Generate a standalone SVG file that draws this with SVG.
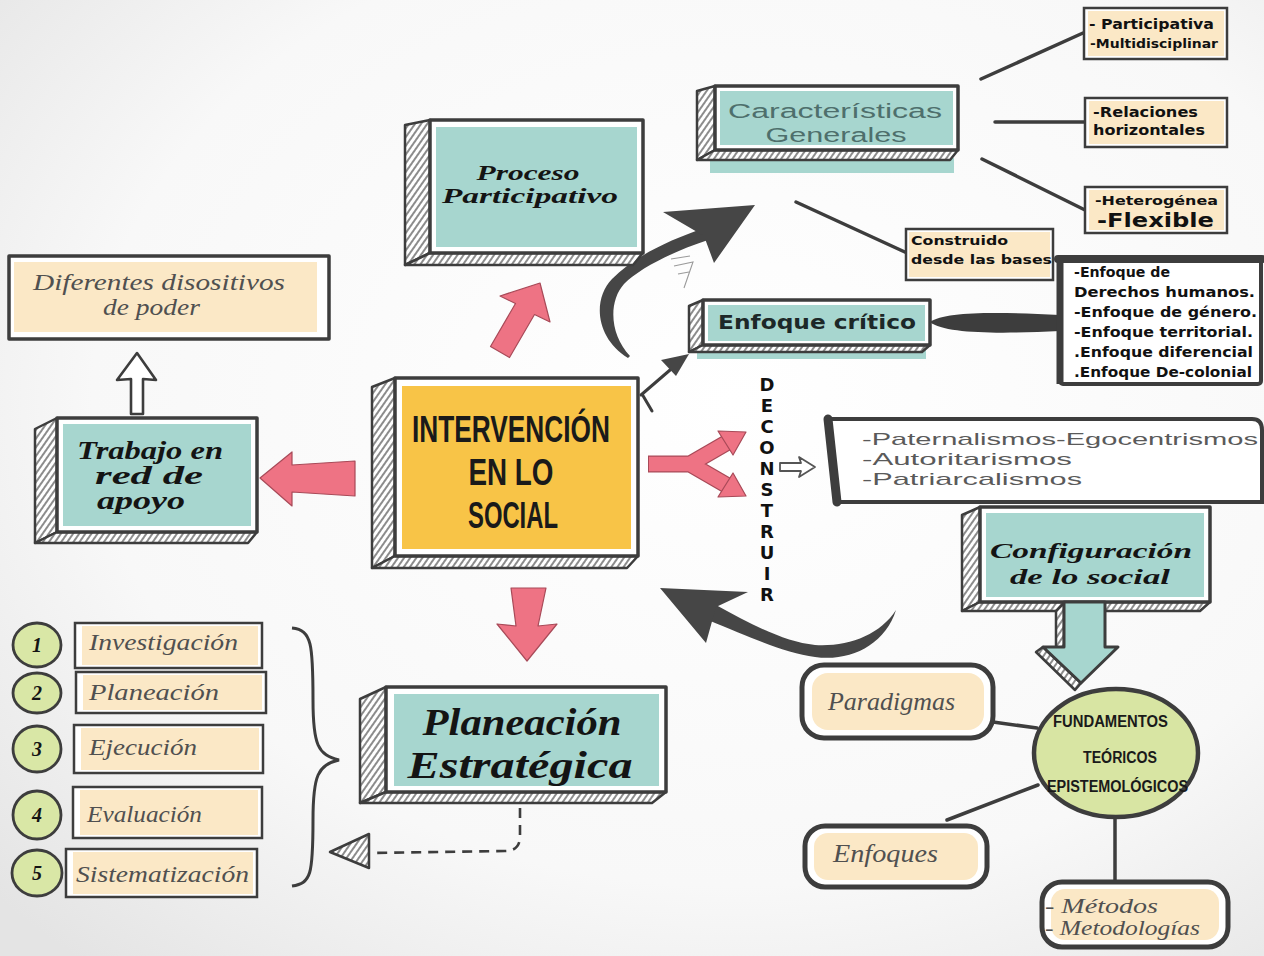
<svg xmlns="http://www.w3.org/2000/svg" width="1264" height="956" viewBox="0 0 1264 956">
<defs>
  <radialGradient id="bg" cx="58%" cy="42%" r="78%">
    <stop offset="0" stop-color="#ffffff"/>
    <stop offset="0.65" stop-color="#f8f8f8"/>
    <stop offset="1" stop-color="#e4e4e4"/>
  </radialGradient>
  <pattern id="hatch" width="5" height="5" patternUnits="userSpaceOnUse" patternTransform="rotate(35)">
    <rect width="5" height="5" fill="#ffffff"/>
    <line x1="1" y1="0" x2="1" y2="5" stroke="#6f6f6f" stroke-width="1.6"/>
  </pattern>
</defs>
<style>
  .hatch{fill:url(#hatch);stroke:#3d3d3d;stroke-width:2.5;stroke-linejoin:round}
  .frame{fill:#ffffff;stroke:#3d3d3d;stroke-width:3.5;stroke-linejoin:round}
  .thin{fill:#ffffff;stroke:#3d3d3d;stroke-width:2.5}
  .teal{fill:#a7d6cf}
  .peach{fill:#fbe8c6}
  .yellow{fill:#f8c447}
  .green{fill:#d9e7a6;stroke:#3d3d3d;stroke-width:2.8}
  .pink{fill:#ee7384;stroke:#a84a58;stroke-width:1.2;stroke-linejoin:round}
  .dark{fill:#464646}
  .line{fill:none;stroke:#3d3d3d;stroke-width:3.5;stroke-linecap:round}
  .hand{font-family:"Liberation Serif",serif;font-style:italic;font-weight:bold;fill:#141414}
  .grayscript{font-family:"Liberation Serif",serif;font-style:italic;fill:#505050}
  .heavy{font-family:"DejaVu Sans",sans-serif;font-weight:bold;fill:#111111}
  .cond{font-family:"Liberation Sans",sans-serif;font-weight:bold;fill:#1a1a1a}
  .light{font-family:"Liberation Sans",sans-serif;fill:#5a5a5a}
</style>
<rect width="1264" height="956" fill="url(#bg)"/>

<!-- connectors -->
<g id="connectors">
  <polygon class="pink" points="490.5,346.5 515.5,303.5 500,296 540,283 550,322 534.5,314.5 509.5,357.5"/>
  <polygon class="pink" points="260,478 292,452 292,465 355,461 355,496 292,492 292,506"/>
  <polygon class="pink" points="511,588 546,588 538,626 557,624 527,661 497,624 516,626"/>
  <g>
    <path d="M648,464 L694,464 M690,464 L728,442 M690,464 L728,486" fill="none" stroke="#a84a58" stroke-width="17" stroke-linejoin="round"/>
    <path d="M649,464 L694,464 M690,464 L728,442 M690,464 L728,486" fill="none" stroke="#ee7384" stroke-width="14.5" stroke-linejoin="round"/>
    <polygon class="pink" points="746,432 733,455 718,431"/>
    <polygon class="pink" points="746,496 733,473 718,497"/>
  </g>
  <polygon points="780,463 801,463 799,457 815,467 799,477 801,471 780,471" fill="#ffffff" stroke="#555" stroke-width="1.8" stroke-linejoin="round"/>
  <polygon points="137,353 156,380 143,379 143,414 131,414 131,379 117,380" fill="#ffffff" stroke="#3d3d3d" stroke-width="2.6" stroke-linejoin="round"/>
  <path class="dark" d="M628,358 C596,338 592,300 612,279 C634,257 668,240 705,228 L708,240 C672,252 640,268 624,284 C608,302 610,335 630,356 Z"/>
  <polygon class="dark" points="663,212 755,205 714,263 704,236"/>
  <g stroke="#9a9a9a" stroke-width="1.1" fill="none">
    <path d="M671,259 L690,256"/>
    <path d="M674,266 L693,262 L684,288"/>
    <path d="M678,274 L689,272"/>
  </g>
  <path d="M641,395 L677,364 M642,394 L652,411" fill="none" stroke="#3d3d3d" stroke-width="3" stroke-linecap="round"/>
  <polygon class="dark" points="689,354 661,360 676,376"/>
  <path class="dark" d="M896,610 C885,645 850,662 815,657 C785,653 752,638 708,620 L716,605 C752,625 785,642 815,645 C848,647 880,635 896,610 Z"/>
  <polygon class="dark" points="660,588 748,592 716,607 706,643"/>
  <path class="line" d="M981,79 L1083,33"/>
  <path class="line" d="M995,122 L1085,122"/>
  <path class="line" d="M982,159 L1085,210"/>
  <path class="line" d="M796,202 L907,253"/>
  <path fill="#3d3d3d" d="M930,322 C945,311 1000,312 1060,315 L1060,331 C1000,334 945,334 930,322 Z"/>
  <path d="M520,808 L520,836 Q520,851 505,851 L372,853" fill="none" stroke="#3d3d3d" stroke-width="2.6" stroke-dasharray="10 7"/>
  <polygon class="hatch" points="330,852 369,834 369,868"/>
  <path d="M292,628 C312,630 313,645 313,700 C313,745 318,755 339,760 C318,765 313,775 313,820 C313,875 311,883 292,886" fill="none" stroke="#3d3d3d" stroke-width="3"/>
  <path class="line" d="M993,722 L1037,728"/>
  <path class="line" d="M947,820 L1038,785"/>
  <path class="line" d="M1115,818 L1115,882"/>
</g>

<!-- Proceso Participativo -->
<g id="proceso">
  <polygon class="hatch" points="405,125 430,120 430,253 405,265"/>
  <polygon class="hatch" points="430,253 643,253 633,265 405,265"/>
  <rect class="frame" x="430" y="120" width="213" height="133"/>
  <rect class="teal" x="436" y="127" width="201" height="120"/>
  <text class="hand" x="528" y="180" font-size="22" text-anchor="middle" textLength="103" lengthAdjust="spacingAndGlyphs">Proceso</text>
  <text class="hand" x="530" y="203" font-size="22" text-anchor="middle" textLength="176" lengthAdjust="spacingAndGlyphs">Participativo</text>
</g>

<!-- Caracteristicas Generales -->
<g id="caracteristicas">
  <rect class="teal" x="710" y="158" width="244" height="15"/>
  <polygon class="hatch" points="697,91 715,86 715,150 697,160"/>
  <polygon class="hatch" points="715,150 958,150 950,160 697,160"/>
  <rect class="frame" x="715" y="86" width="243" height="64"/>
  <rect class="teal" x="720" y="91" width="233" height="54"/>
  <text class="light" x="835" y="118" font-size="20" style="fill:#4e6f6c" text-anchor="middle" textLength="214" lengthAdjust="spacingAndGlyphs">Características</text>
  <text class="light" x="836" y="142" font-size="20" style="fill:#4e6f6c" text-anchor="middle" textLength="141" lengthAdjust="spacingAndGlyphs">Generales</text>
</g>

<!-- right small boxes -->
<g id="participativa">
  <rect class="thin" x="1084" y="8" width="143" height="51"/>
  <rect class="peach" x="1088" y="11" width="136" height="45"/>
  <text class="heavy" x="1089" y="29" font-size="14" textLength="125" lengthAdjust="spacingAndGlyphs">- Participativa</text>
  <text class="heavy" x="1090" y="48" font-size="12" textLength="128" lengthAdjust="spacingAndGlyphs">-Multidisciplinar</text>
</g>
<g id="relaciones">
  <rect class="thin" x="1085" y="98" width="142" height="49"/>
  <rect class="peach" x="1089" y="101" width="135" height="43"/>
  <text class="heavy" x="1093" y="117" font-size="14" textLength="105" lengthAdjust="spacingAndGlyphs">-Relaciones</text>
  <text class="heavy" x="1093" y="135" font-size="14" textLength="112" lengthAdjust="spacingAndGlyphs">horizontales</text>
</g>
<g id="heterogenea">
  <rect class="thin" x="1085" y="187" width="142" height="46"/>
  <rect class="peach" x="1089" y="190" width="135" height="40"/>
  <text class="heavy" x="1095" y="205" font-size="13" textLength="123" lengthAdjust="spacingAndGlyphs">-Heterogénea</text>
  <text class="heavy" x="1097" y="227" font-size="20" textLength="117" lengthAdjust="spacingAndGlyphs">-Flexible</text>
</g>
<g id="construido">
  <rect class="thin" x="906" y="229" width="147" height="51"/>
  <rect class="peach" x="909" y="232" width="141" height="45"/>
  <text class="heavy" x="911" y="245" font-size="13" textLength="97" lengthAdjust="spacingAndGlyphs">Construido</text>
  <text class="heavy" x="911" y="264" font-size="13" textLength="141" lengthAdjust="spacingAndGlyphs">desde las bases</text>
</g>

<!-- Enfoque critico -->
<g id="enfoque-critico">
  <rect class="teal" x="697" y="350" width="229" height="9"/>
  <polygon class="hatch" points="689,306 703,300 703,345 689,352"/>
  <polygon class="hatch" points="703,345 930,345 922,352 689,352"/>
  <rect class="frame" x="703" y="300" width="227" height="45"/>
  <rect class="teal" x="708" y="305" width="217" height="36"/>
  <text class="heavy" x="817" y="329" font-size="20" style="fill:#1d2828" text-anchor="middle" textLength="198" lengthAdjust="spacingAndGlyphs">Enfoque crítico</text>
</g>

<!-- Enfoque list -->
<g id="enfoques-lista">
  <rect x="1060" y="258" width="201" height="126" rx="3" fill="#ffffff" stroke="#3d3d3d" stroke-width="4"/>
  <path d="M1058,259 L1262,259" stroke="#3d3d3d" stroke-width="8" stroke-linecap="round"/>
  <path d="M1060,260 L1060,384" stroke="#3d3d3d" stroke-width="7"/>
  <g class="heavy" font-size="13.5">
    <text x="1074" y="277" textLength="96" lengthAdjust="spacingAndGlyphs">-Enfoque de</text>
    <text x="1074" y="297" textLength="181" lengthAdjust="spacingAndGlyphs">Derechos humanos.</text>
    <text x="1074" y="317" textLength="183" lengthAdjust="spacingAndGlyphs">-Enfoque de género.</text>
    <text x="1074" y="337" textLength="179" lengthAdjust="spacingAndGlyphs">-Enfoque territorial.</text>
    <text x="1074" y="357" textLength="179" lengthAdjust="spacingAndGlyphs">.Enfoque diferencial</text>
    <text x="1074" y="377" textLength="178" lengthAdjust="spacingAndGlyphs">.Enfoque De-colonial</text>
  </g>
</g>

<!-- DECONSTRUIR -->
<g id="deconstruir" class="heavy" font-size="18" text-anchor="middle">
  <text x="767" y="391">D</text>
  <text x="767" y="412">E</text>
  <text x="767" y="433">C</text>
  <text x="767" y="454">O</text>
  <text x="767" y="475">N</text>
  <text x="767" y="496">S</text>
  <text x="767" y="517">T</text>
  <text x="767" y="538">R</text>
  <text x="767" y="559">U</text>
  <text x="767" y="580">I</text>
  <text x="767" y="601">R</text>
</g>

<!-- Paternalismos -->
<g id="paternalismos">
  <path d="M830,419 L1252,419 Q1262,419 1262,430 L1262,502 L838,502" fill="#ffffff" stroke="#3d3d3d" stroke-width="4"/>
  <path d="M828,419 L837,502" stroke="#3d3d3d" stroke-width="9" stroke-linecap="round"/>
  <text class="light" x="862" y="445" font-size="17" textLength="396" lengthAdjust="spacingAndGlyphs">-Paternalismos-Egocentrismos</text>
  <text class="light" x="862" y="465" font-size="17" textLength="210" lengthAdjust="spacingAndGlyphs">-Autoritarismos</text>
  <text class="light" x="862" y="485" font-size="17" textLength="220" lengthAdjust="spacingAndGlyphs">-Patriarcalismos</text>
</g>

<!-- Intervencion en lo social -->
<g id="intervencion">
  <polygon class="hatch" points="372,387 395,378 395,556 372,568"/>
  <polygon class="hatch" points="395,556 638,556 627,568 372,568"/>
  <rect class="frame" x="395" y="378" width="243" height="178"/>
  <rect class="yellow" x="402" y="386" width="229" height="163"/>
  <text class="cond" x="511" y="442" font-size="36" text-anchor="middle" textLength="198" lengthAdjust="spacingAndGlyphs">INTERVENCIÓN</text>
  <text class="cond" x="511" y="485" font-size="36" text-anchor="middle" textLength="85" lengthAdjust="spacingAndGlyphs">EN LO</text>
  <text class="cond" x="513" y="528" font-size="36" text-anchor="middle" textLength="90" lengthAdjust="spacingAndGlyphs">SOCIAL</text>
</g>

<!-- Trabajo en red de apoyo -->
<g id="trabajo">
  <polygon class="hatch" points="35,429 57,418 57,532 35,543"/>
  <polygon class="hatch" points="57,532 257,532 248,543 35,543"/>
  <rect class="frame" x="57" y="418" width="200" height="114"/>
  <rect class="teal" x="63" y="424" width="188" height="102"/>
  <text class="hand" x="77" y="459" font-size="25" textLength="146" lengthAdjust="spacingAndGlyphs">Trabajo en</text>
  <text class="hand" x="95" y="484" font-size="25" textLength="108" lengthAdjust="spacingAndGlyphs">red de</text>
  <text class="hand" x="97" y="509" font-size="25" textLength="88" lengthAdjust="spacingAndGlyphs">apoyo</text>
</g>

<!-- Diferentes dispositivos -->
<g id="diferentes">
  <rect class="frame" x="9" y="256" width="320" height="83" stroke-width="4"/>
  <rect class="peach" x="14" y="262" width="303" height="70"/>
  <text class="grayscript" x="33" y="290" font-size="23" textLength="252" lengthAdjust="spacingAndGlyphs">Diferentes disositivos</text>
  <text class="grayscript" x="103" y="315" font-size="23" textLength="97" lengthAdjust="spacingAndGlyphs">de poder</text>
</g>

<!-- Left list -->
<g id="paso1">
  <ellipse class="green" cx="37" cy="645" rx="24" ry="22"/>
  <text class="hand" x="37" y="652" font-size="20" text-anchor="middle">1</text>
  <rect class="thin" x="75" y="623" width="187" height="45"/>
  <rect class="peach" x="82" y="626" width="176" height="39"/>
  <text class="grayscript" x="89" y="650" font-size="23" textLength="149" lengthAdjust="spacingAndGlyphs">Investigación</text>
</g>
<g id="paso2">
  <ellipse class="green" cx="37" cy="693" rx="24" ry="20"/>
  <text class="hand" x="37" y="700" font-size="20" text-anchor="middle">2</text>
  <rect class="thin" x="76" y="672" width="190" height="41"/>
  <rect class="peach" x="83" y="675" width="179" height="35"/>
  <text class="grayscript" x="89" y="700" font-size="23" textLength="130" lengthAdjust="spacingAndGlyphs">Planeación</text>
</g>
<g id="paso3">
  <ellipse class="green" cx="37" cy="749" rx="24" ry="23"/>
  <text class="hand" x="37" y="756" font-size="20" text-anchor="middle">3</text>
  <rect class="thin" x="74" y="725" width="189" height="48"/>
  <rect class="peach" x="81" y="728" width="178" height="42"/>
  <text class="grayscript" x="89" y="755" font-size="23" textLength="108" lengthAdjust="spacingAndGlyphs">Ejecución</text>
</g>
<g id="paso4">
  <ellipse class="green" cx="37" cy="815" rx="24" ry="24"/>
  <text class="hand" x="37" y="822" font-size="20" text-anchor="middle">4</text>
  <rect class="thin" x="73" y="787" width="189" height="51"/>
  <rect class="peach" x="80" y="790" width="178" height="45"/>
  <text class="grayscript" x="87" y="822" font-size="23" textLength="115" lengthAdjust="spacingAndGlyphs">Evaluación</text>
</g>
<g id="paso5">
  <ellipse class="green" cx="37" cy="873" rx="25" ry="23"/>
  <text class="hand" x="37" y="880" font-size="20" text-anchor="middle">5</text>
  <rect class="thin" x="66" y="849" width="191" height="48"/>
  <rect class="peach" x="73" y="852" width="180" height="42"/>
  <text class="grayscript" x="76" y="882" font-size="23" textLength="173" lengthAdjust="spacingAndGlyphs">Sistematización</text>
</g>

<!-- Planeacion Estrategica -->
<g id="planeacion">
  <polygon class="hatch" points="360,699 386,687 386,792 360,803"/>
  <polygon class="hatch" points="386,792 666,792 652,803 360,803"/>
  <rect class="frame" x="386" y="687" width="280" height="105"/>
  <rect class="teal" x="394" y="694" width="265" height="92"/>
  <text class="hand" x="522" y="735" font-size="38" text-anchor="middle" textLength="199" lengthAdjust="spacingAndGlyphs">Planeación</text>
  <text class="hand" x="520" y="778" font-size="38" text-anchor="middle" textLength="225" lengthAdjust="spacingAndGlyphs">Estratégica</text>
</g>

<!-- Configuracion de lo social -->
<g id="configuracion">
  <polygon class="hatch" points="962,515 980,507 980,602 962,611"/>
  <polygon class="hatch" points="980,602 1210,602 1200,611 962,611"/>
  <rect class="frame" x="980" y="507" width="230" height="95"/>
  <rect class="teal" x="986" y="513" width="218" height="84"/>
  <polygon class="hatch" points="1056,611 1064,603 1064,648 1056,652"/>
  <polygon class="hatch" points="1036,652 1043,647 1081,683 1075,690"/>
  <polygon points="1064,602 1105,602 1105,647 1118,647 1081,683 1043,647 1064,647" fill="#a7d6cf" stroke="#3d3d3d" stroke-width="3" stroke-linejoin="round"/>
  <text class="hand" x="1091" y="558" font-size="22" text-anchor="middle" textLength="202" lengthAdjust="spacingAndGlyphs">Configuración</text>
  <text class="hand" x="1090" y="584" font-size="21" text-anchor="middle" textLength="160" lengthAdjust="spacingAndGlyphs">de lo social</text>
</g>

<!-- Fundamentos -->
<g id="fundamentos">
  <ellipse cx="1116" cy="753" rx="82" ry="64" fill="#d8e5a3" stroke="#3d3d3d" stroke-width="4.5"/>
  <text class="cond" x="1053" y="727" font-size="16" textLength="115" lengthAdjust="spacingAndGlyphs">FUNDAMENTOS</text>
  <text class="cond" x="1083" y="763" font-size="16" textLength="74" lengthAdjust="spacingAndGlyphs">TEÓRICOS</text>
  <text class="cond" x="1047" y="792" font-size="16" textLength="141" lengthAdjust="spacingAndGlyphs">EPISTEMOLÓGICOS</text>
</g>

<g id="paradigmas">
  <rect x="802" y="665" width="191" height="73" rx="22" fill="#ffffff" stroke="#3d3d3d" stroke-width="5"/>
  <rect x="812" y="673" width="172" height="57" rx="16" class="peach"/>
  <text class="grayscript" x="828" y="710" font-size="26" textLength="127" lengthAdjust="spacingAndGlyphs">Paradigmas</text>
</g>
<g id="enfoques">
  <rect x="805" y="826" width="182" height="61" rx="20" fill="#ffffff" stroke="#3d3d3d" stroke-width="5"/>
  <rect x="814" y="833" width="164" height="47" rx="14" class="peach"/>
  <text class="grayscript" x="833" y="862" font-size="26" textLength="105" lengthAdjust="spacingAndGlyphs">Enfoques</text>
</g>
<g id="metodos">
  <rect x="1042" y="882" width="186" height="65" rx="20" fill="#ffffff" stroke="#3d3d3d" stroke-width="5"/>
  <rect x="1051" y="889" width="168" height="51" rx="14" class="peach"/>
  <text class="grayscript" x="1045" y="913" font-size="20" textLength="113" lengthAdjust="spacingAndGlyphs">- Métodos</text>
  <text class="grayscript" x="1045" y="935" font-size="20" textLength="155" lengthAdjust="spacingAndGlyphs">- Metodologías</text>
</g>
</svg>
